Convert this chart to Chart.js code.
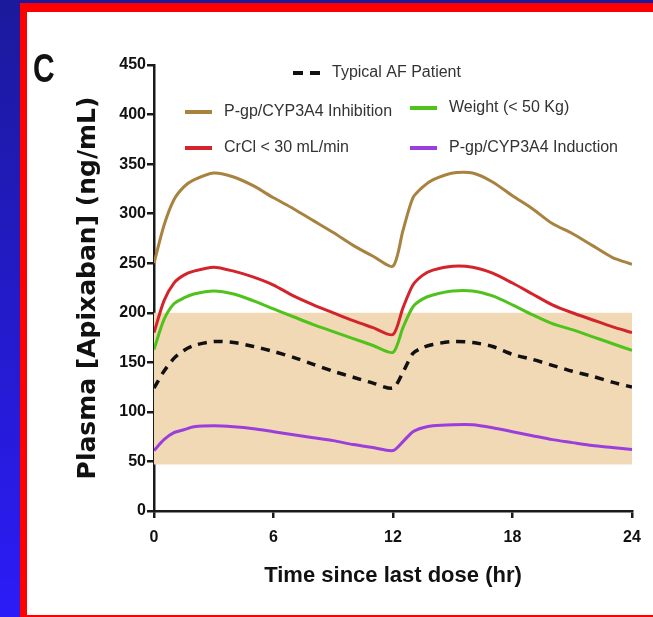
<!DOCTYPE html>
<html>
<head>
<meta charset="utf-8">
<title>Apixaban plasma concentration</title>
<script src="https://cdn.jsdelivr.net/npm/chart.js@4.4.0/dist/chart.umd.min.js"></script>
<style>
  html, body { margin: 0; padding: 0; }
  body {
    width: 653px; height: 617px; overflow: hidden; position: relative;
    background: linear-gradient(to bottom, #1b1a9c, #2b1cf7);
  }
  .frame { position: absolute; left: 20px; top: 3px; right: 0; bottom: 0; background: #ff0000; }
  .panel { position: absolute; left: 27px; top: 12px; right: 0; bottom: 2px; background: #fff; }
  #plasmaChart { position: absolute; left: 0; top: 0; }
</style>
</head>
<body>
<div class="frame"></div>
<div class="panel"></div>
<canvas id="plasmaChart" width="653" height="617"></canvas>
<script>
// Sampling times (hours since last dose), two 12 h dosing intervals
const hours = [0, 0.5, 1, 1.5, 2, 3, 4, 5, 6, 7, 8, 9, 10, 11, 12,
               12.5, 13, 13.5, 14, 15, 16, 17, 18, 19, 20, 21, 22, 23, 24];

// Plasma apixaban (ng/mL) per patient group
const typicalAF  = [124, 141, 154, 162, 167, 171, 170, 166, 161, 155, 148, 141, 135, 129, 124,
                    140, 159, 165, 168, 171, 170, 166, 158, 153, 147, 141, 136, 130, 125];
const inhibition = [250, 288, 314, 327, 334, 341, 337, 328, 316, 305, 293, 281, 268, 257, 247,
                    283, 316, 327, 334, 341, 341, 332, 318, 305, 290, 280, 268, 256, 249];
const crclLow    = [180, 212, 230, 238, 242, 246, 242, 236, 228, 217, 208, 200, 192, 185, 178,
                    205, 228, 238, 243, 247, 246, 240, 230, 219, 208, 200, 193, 186, 180];
const lowWeight  = [163, 193, 209, 215, 219, 222, 219, 212, 204, 196, 188, 181, 174, 167, 160,
                    185, 206, 214, 218, 222, 222, 217, 208, 198, 189, 183, 176, 169, 162];
const induction  = [61, 72, 79, 82, 85, 86, 85, 83, 80, 77, 74, 71, 67, 64, 61,
                    70, 80, 84, 86, 87, 87, 84, 80, 76, 72, 69, 66, 64, 62];

// Shaded reference range
const bandHours = [0, 24];
const bandUpper = [200, 200];
const bandLower = [47, 47];

const xTicks = [0, 6, 12, 18, 24];
const yTicks = [0, 50, 100, 150, 200, 250, 300, 350, 400, 450];

const toPoints = (xs, ys) => xs.map((x, i) => ({ x: x, y: ys[i] }));

const line = (label, values, color, extra) => Object.assign({
    label: label,
    data: toPoints(hours, values),
    borderColor: color,
    backgroundColor: color,
    borderWidth: 3,
    pointRadius: 0,
    tension: 0.25,
    fill: false
}, extra || {});

// Legend drawn by hand so it can sit in three rows inside the plot
// (one spot per dataset, same order as the datasets)
const legendSpots = [
    { x: 293, y: 73, w: 27 },   // Typical AF Patient
    { x: 185, y: 112, w: 27 },  // inhibition
    { x: 410, y: 108, w: 27 },  // weight
    { x: 185, y: 148, w: 27 },  // CrCl
    { x: 410, y: 148, w: 27 }   // induction
];

const figureLegend = {
    id: 'figureLegend',
    afterDraw(chart) {
        const ctx = chart.ctx;
        const sets = chart.data.datasets;
        ctx.save();
        ctx.font = '16px "Liberation Sans", Arial, sans-serif';
        ctx.textBaseline = 'middle';
        ctx.fillStyle = '#333';
        legendSpots.forEach((spot, i) => {
            const ds = sets[i];
            ctx.beginPath();
            ctx.strokeStyle = ds.borderColor;
            ctx.lineWidth = 4;
            ctx.setLineDash(ds.borderDash ? [10, 7] : []);
            ctx.moveTo(spot.x, spot.y);
            ctx.lineTo(spot.x + spot.w, spot.y);
            ctx.stroke();
            ctx.setLineDash([]);
            ctx.fillText(ds.label, spot.x + spot.w + 12, spot.y);
        });
        // panel letter, squeezed a little
        ctx.fillStyle = '#111';
        ctx.textBaseline = 'alphabetic';
        ctx.font = 'bold 40px "Liberation Sans", Arial, sans-serif';
        ctx.translate(33, 82);
        ctx.scale(0.75, 1);
        ctx.fillText('C', 0, 0);
        ctx.restore();
    }
};

const axisColor = '#1a1a1a';

new Chart(document.getElementById('plasmaChart'), {
    type: 'line',
    data: {
        datasets: [
            line('Typical AF Patient', typicalAF, '#111111', { borderDash: [9, 7], borderWidth: 3.5 }),
            line('P-gp/CYP3A4 Inhibition', inhibition, '#a8823f'),
            line('Weight (< 50 Kg)', lowWeight, '#4fc21c'),
            line('CrCl < 30 mL/min', crclLow, '#d3242b'),
            line('P-gp/CYP3A4 Induction', induction, '#9a3fdc'),
            {
                label: 'range upper',
                data: toPoints(bandHours, bandUpper),
                borderWidth: 0,
                pointRadius: 0,
                backgroundColor: '#f1d9b6',
                fill: '+1'
            },
            {
                label: 'range lower',
                data: toPoints(bandHours, bandLower),
                borderWidth: 0,
                pointRadius: 0,
                fill: false
            }
        ]
    },
    options: {
        responsive: false,
        animation: false,
        layout: { padding: { left: 69, top: 65, right: 21, bottom: 24 } },
        plugins: {
            legend: { display: false },
            tooltip: { enabled: false }
        },
        scales: {
            x: {
                type: 'linear',
                min: 0,
                max: 24,
                afterFit: (scale) => { scale.height = 82; },
                afterBuildTicks: (scale) => { scale.ticks = xTicks.map(v => ({ value: v })); },
                grid: { drawOnChartArea: false, drawTicks: true, tickLength: 7, color: axisColor, lineWidth: 2.5 },
                border: { display: true, color: axisColor, width: 2.5 },
                ticks: {
                    color: '#111',
                    padding: 10,
                    maxRotation: 0,
                    font: { family: '"Liberation Sans", Arial, sans-serif', size: 16, weight: 'bold' }
                },
                title: {
                    display: true,
                    text: 'Time since last dose (hr)',
                    color: '#111',
                    font: { family: '"Liberation Sans", Arial, sans-serif', size: 22, weight: 'bold' }
                }
            },
            y: {
                min: 0,
                max: 450,
                afterFit: (scale) => { scale.width = 85; },
                afterBuildTicks: (scale) => { scale.ticks = yTicks.map(v => ({ value: v })); },
                grid: { drawOnChartArea: false, drawTicks: true, tickLength: 7, color: axisColor, lineWidth: 2.5 },
                border: { display: true, color: axisColor, width: 2.5 },
                ticks: {
                    color: '#111',
                    padding: 1,
                    font: { family: '"Liberation Sans", Arial, sans-serif', size: 16, weight: 'bold' }
                },
                title: {
                    display: true,
                    text: 'Plasma [Apixaban] (ng/mL)',
                    color: '#111',
                    font: { family: '"DejaVu Sans", sans-serif', size: 25, weight: 'bold' }
                }
            }
        }
    },
    plugins: [figureLegend]
});
</script>
</body>
</html>
